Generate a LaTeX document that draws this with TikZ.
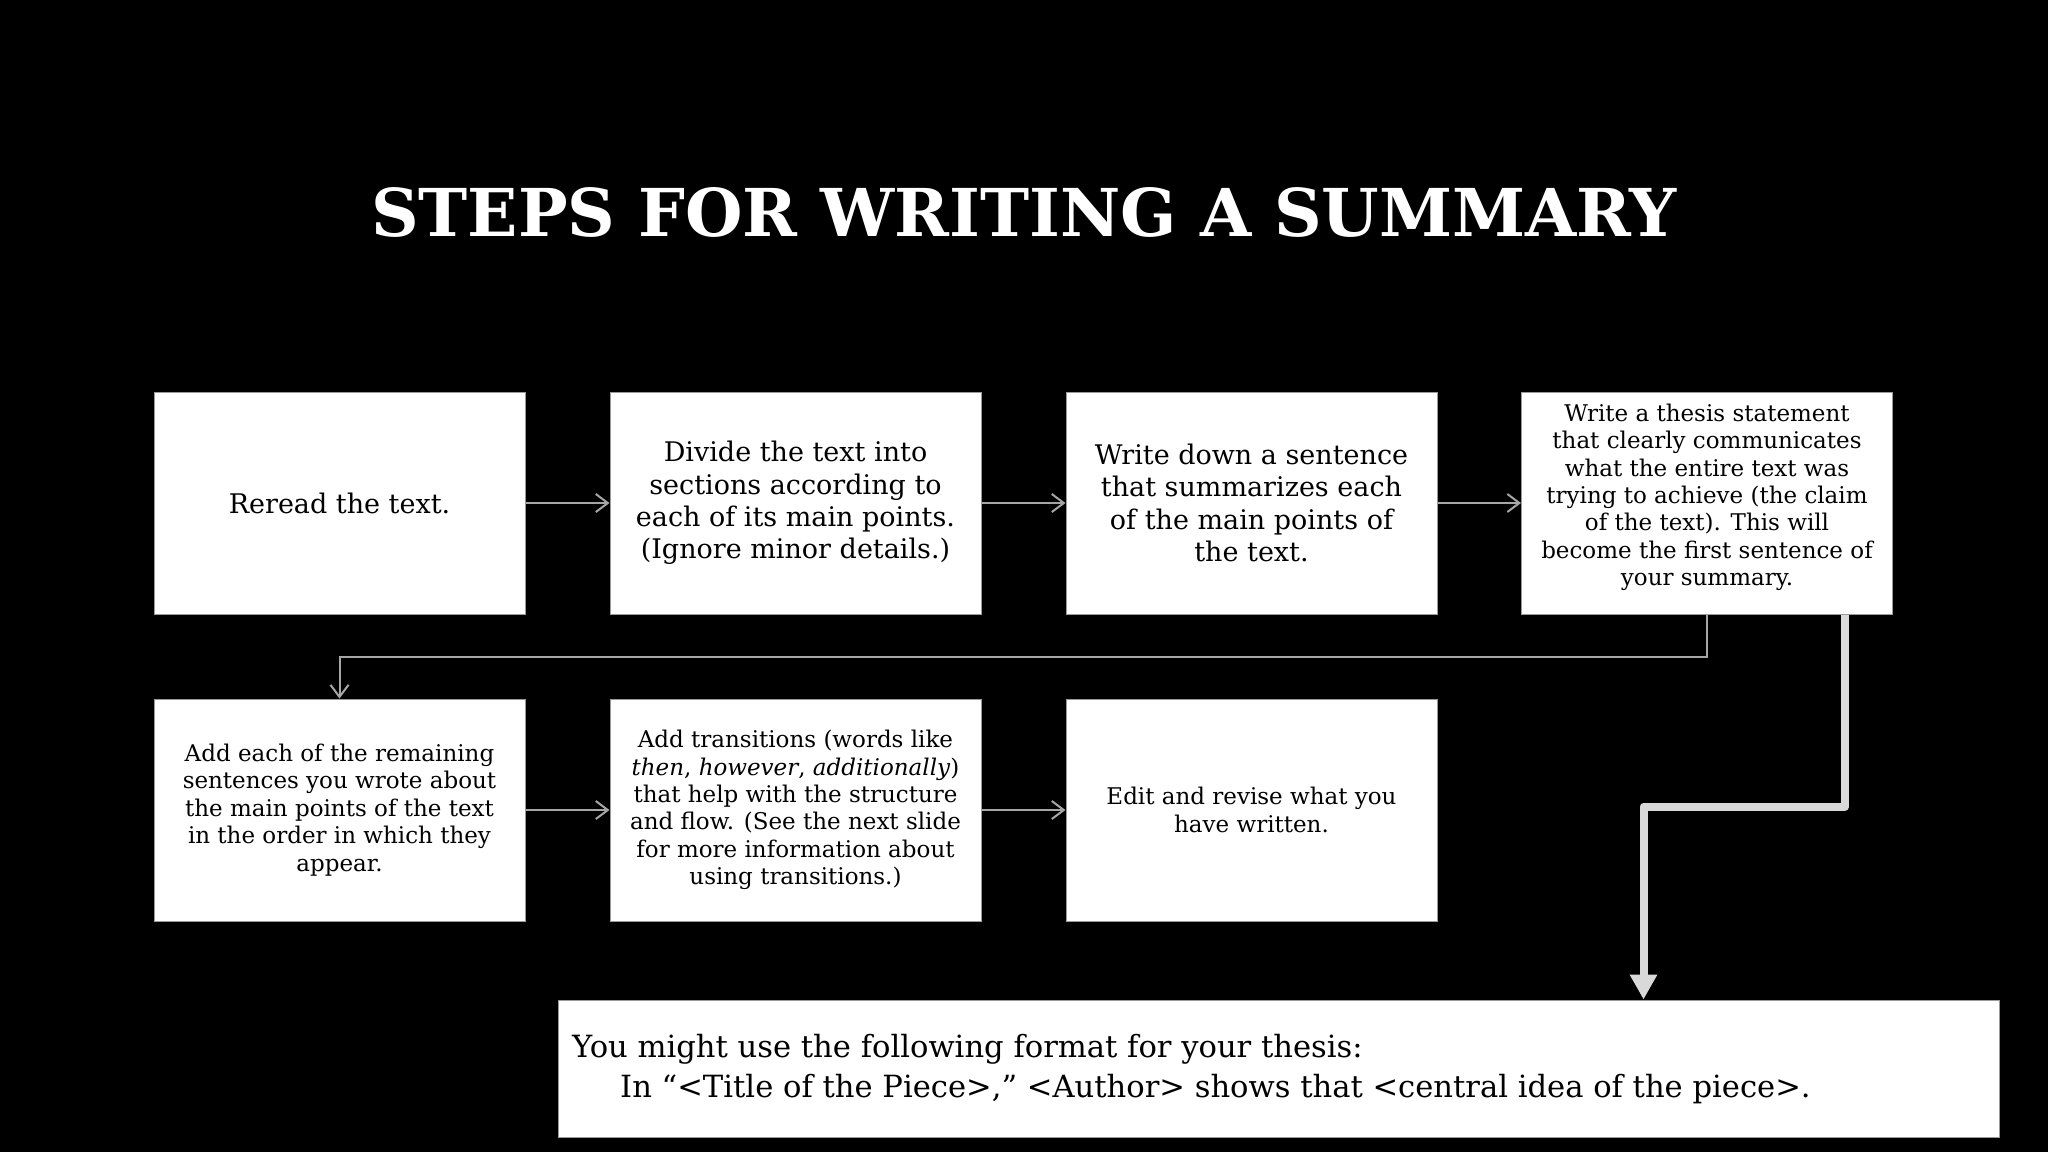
\documentclass[tikz,border=0pt]{standalone}
\usepackage{fontspec}
\setmainfont{DejaVu Serif}
\usetikzlibrary{arrows.meta}
\definecolor{thinline}{HTML}{A6A6A6}
\definecolor{thickline}{HTML}{D9D9D9}
\definecolor{boxedge}{HTML}{9A9A9A}
\begin{document}
\begin{tikzpicture}[x=1pt,y=-1pt,
  stepbox/.style={draw=boxedge, line width=1pt, fill=white, text=black,
    minimum width=371pt, minimum height=222pt, inner sep=0pt, align=center},
  bigtxt/.style={font=\fontsize{27}{32.2}\selectfont},
  smalltxt/.style={font=\fontsize{23}{27.4}\selectfont},
  flow/.style={draw=thinline, line width=2pt, -{Straight Barb[length=12pt,width=18pt]}},
  bigflow/.style={draw=thickline, line width=8pt, line join=round,
    -{Triangle[length=25pt,width=26pt]}}]
\fill[black] (0,0) rectangle (2048,1152);
\useasboundingbox (0,0) rectangle (2048,1152);

\node[text=white, font=\fontsize{66}{70}\selectfont\bfseries] (title) at (1024,212)
  {STEPS FOR WRITING A SUMMARY};

\node[stepbox, bigtxt] (b1) at (339.5,503) {Reread the text.};
\node[stepbox, bigtxt] (b2) at (795.5,503) {Divide the text into\\sections according to\\each of its main points.\\(Ignore minor details.)};
\node[stepbox, bigtxt] (b3) at (1251.5,503) {Write down a sentence\\that summarizes each\\of the main points of\\the text.};
\node[stepbox, smalltxt] (b4) at (1707,503) {Write a thesis statement\\that clearly communicates\\what the entire text was\\trying to achieve (the claim\\of the text). This will\\become the first sentence of\\your summary.\\[-11pt]};

\node[stepbox, smalltxt] (b5) at (339.5,810) {Add each of the remaining\\sentences you wrote about\\the main points of the text\\in the order in which they\\appear.};
\node[stepbox, smalltxt] (b6) at (795.5,810) {Add transitions (words like\\\textit{then}, \textit{however}, \textit{additionally})\\that help with the structure\\and flow. (See the next slide\\for more information about\\using transitions.)};
\node[stepbox, smalltxt] (b7) at (1251.5,810) {Edit and revise what you\\have written.};

\node[draw=boxedge, line width=1pt, fill=white, minimum width=1441pt, minimum height=137pt, inner sep=0pt] (bot) at (1278.5,1068.5) {};
\node[anchor=west, align=left, text=black, inner sep=0pt,
  font=\fontsize{30.6}{40.5}\selectfont] (bottxt) at (572,1069)
  {You might use the following format for your thesis:\\
   \hspace*{48pt}In “<Title of the Piece>,” <Author> shows that <central idea of the piece>.};

\draw[flow] (b1) -- (b2);
\draw[flow] (b2) -- (b3);
\draw[flow] (b3) -- (b4);
\draw[flow] (b5) -- (b6);
\draw[flow] (b6) -- (b7);
\draw[flow] (b4.south) -- ++(0,42) -| (b5.north);
\draw[bigflow] ([xshift=-48pt]b4.south east) -- ++(0,192) -| ([xshift=1086pt]bot.north west);
\end{tikzpicture}
\end{document}
